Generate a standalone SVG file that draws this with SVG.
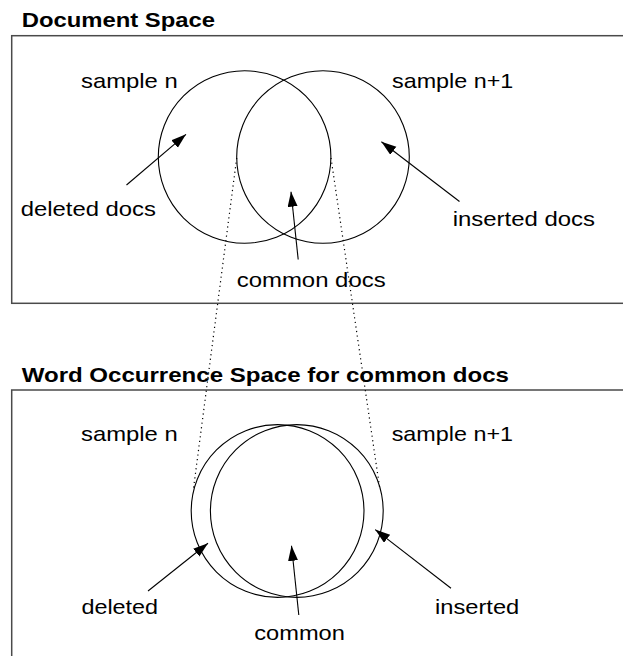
<svg xmlns="http://www.w3.org/2000/svg" width="623" height="656" viewBox="0 0 623 656">
  <style>
    .panel { fill: none; stroke: #4a4a4a; stroke-width: 1.5; }
    .set { fill: none; stroke: #000; stroke-width: 1.1; }
    .arrow { fill: none; stroke: #000; stroke-width: 1.1; marker-end: url(#head); }
    .proj { fill: none; stroke: #000; stroke-width: 1.2; stroke-dasharray: 1.2 3.4; }
    .title { font-family: "Liberation Sans", Arial, sans-serif; font-weight: bold; font-size: 21px; fill: #000; }
    .label { font-family: "Liberation Sans", Arial, sans-serif; font-size: 21px; fill: #000; }
  </style>
  <defs>
    <marker id="head" markerUnits="userSpaceOnUse" markerWidth="16" markerHeight="12" refX="15" refY="5" orient="auto">
      <path d="M0,0 L15,5 L0,10 z" fill="#000"/>
    </marker>
  </defs>
  <rect width="623" height="656" fill="#fff"/>

  <!-- Document space panel -->
  <g id="document-space">
    <text class="title" x="21.7" y="26.7" textLength="193.3" lengthAdjust="spacingAndGlyphs">Document Space</text>
    <rect class="panel" x="11.7" y="35.7" width="640" height="267.6"/>
  </g>
  <g id="doc-sample-n">
    <circle class="set" cx="244.6" cy="157" r="86.3"/>
    <text class="label" x="81" y="88.3" textLength="96.7" lengthAdjust="spacingAndGlyphs">sample n</text>
  </g>
  <g id="doc-sample-n1">
    <circle class="set" cx="323" cy="157" r="86.3"/>
    <text class="label" x="392" y="88.3" textLength="121.3" lengthAdjust="spacingAndGlyphs">sample n+1</text>
  </g>
  <g id="doc-deleted">
    <text class="label" x="20.7" y="216" textLength="135.3" lengthAdjust="spacingAndGlyphs">deleted docs</text>
  </g>
  <g id="doc-inserted">
    <text class="label" x="452.7" y="225.7" textLength="142.3" lengthAdjust="spacingAndGlyphs">inserted docs</text>
  </g>
  <g id="doc-common">
    <text class="label" x="236.7" y="286.7" textLength="149" lengthAdjust="spacingAndGlyphs">common docs</text>
  </g>

  <!-- Word occurrence space panel -->
  <g id="word-space">
    <text class="title" x="21.7" y="381.7" textLength="487.3" lengthAdjust="spacingAndGlyphs">Word Occurrence Space for common docs</text>
    <rect class="panel" x="11.7" y="390" width="640" height="300"/>
  </g>
  <g id="word-sample-n">
    <circle class="set" cx="277.6" cy="511" r="86.4"/>
    <text class="label" x="81" y="441" textLength="96.7" lengthAdjust="spacingAndGlyphs">sample n</text>
  </g>
  <g id="word-sample-n1">
    <circle class="set" cx="296.8" cy="511" r="86.4"/>
    <text class="label" x="391.7" y="441" textLength="121.3" lengthAdjust="spacingAndGlyphs">sample n+1</text>
  </g>
  <g id="word-deleted">
    <text class="label" x="81.4" y="614" textLength="76.7" lengthAdjust="spacingAndGlyphs">deleted</text>
  </g>
  <g id="word-inserted">
    <text class="label" x="435" y="614" textLength="84.3" lengthAdjust="spacingAndGlyphs">inserted</text>
  </g>
  <g id="word-common">
    <text class="label" x="254.3" y="640" textLength="90.6" lengthAdjust="spacingAndGlyphs">common</text>
  </g>

  <!-- connectors: label arrows and projection lines -->
  <g id="connectors">
    <line class="arrow" x1="126.5" y1="185" x2="186" y2="134.3"/>
    <line class="arrow" x1="459.5" y1="201.5" x2="381.4" y2="141.7"/>
    <line class="arrow" x1="298.2" y1="259.5" x2="291" y2="191.7"/>

    <line class="arrow" x1="148" y1="591" x2="208" y2="543.3"/>
    <line class="arrow" x1="451" y1="588.3" x2="375.2" y2="529.6"/>
    <line class="arrow" x1="298.8" y1="615" x2="291.5" y2="545.8"/>

    <line class="proj" x1="236.7" y1="158" x2="193.3" y2="490"/>
    <line class="proj" x1="331" y1="158" x2="380" y2="490"/>
  </g>
</svg>
